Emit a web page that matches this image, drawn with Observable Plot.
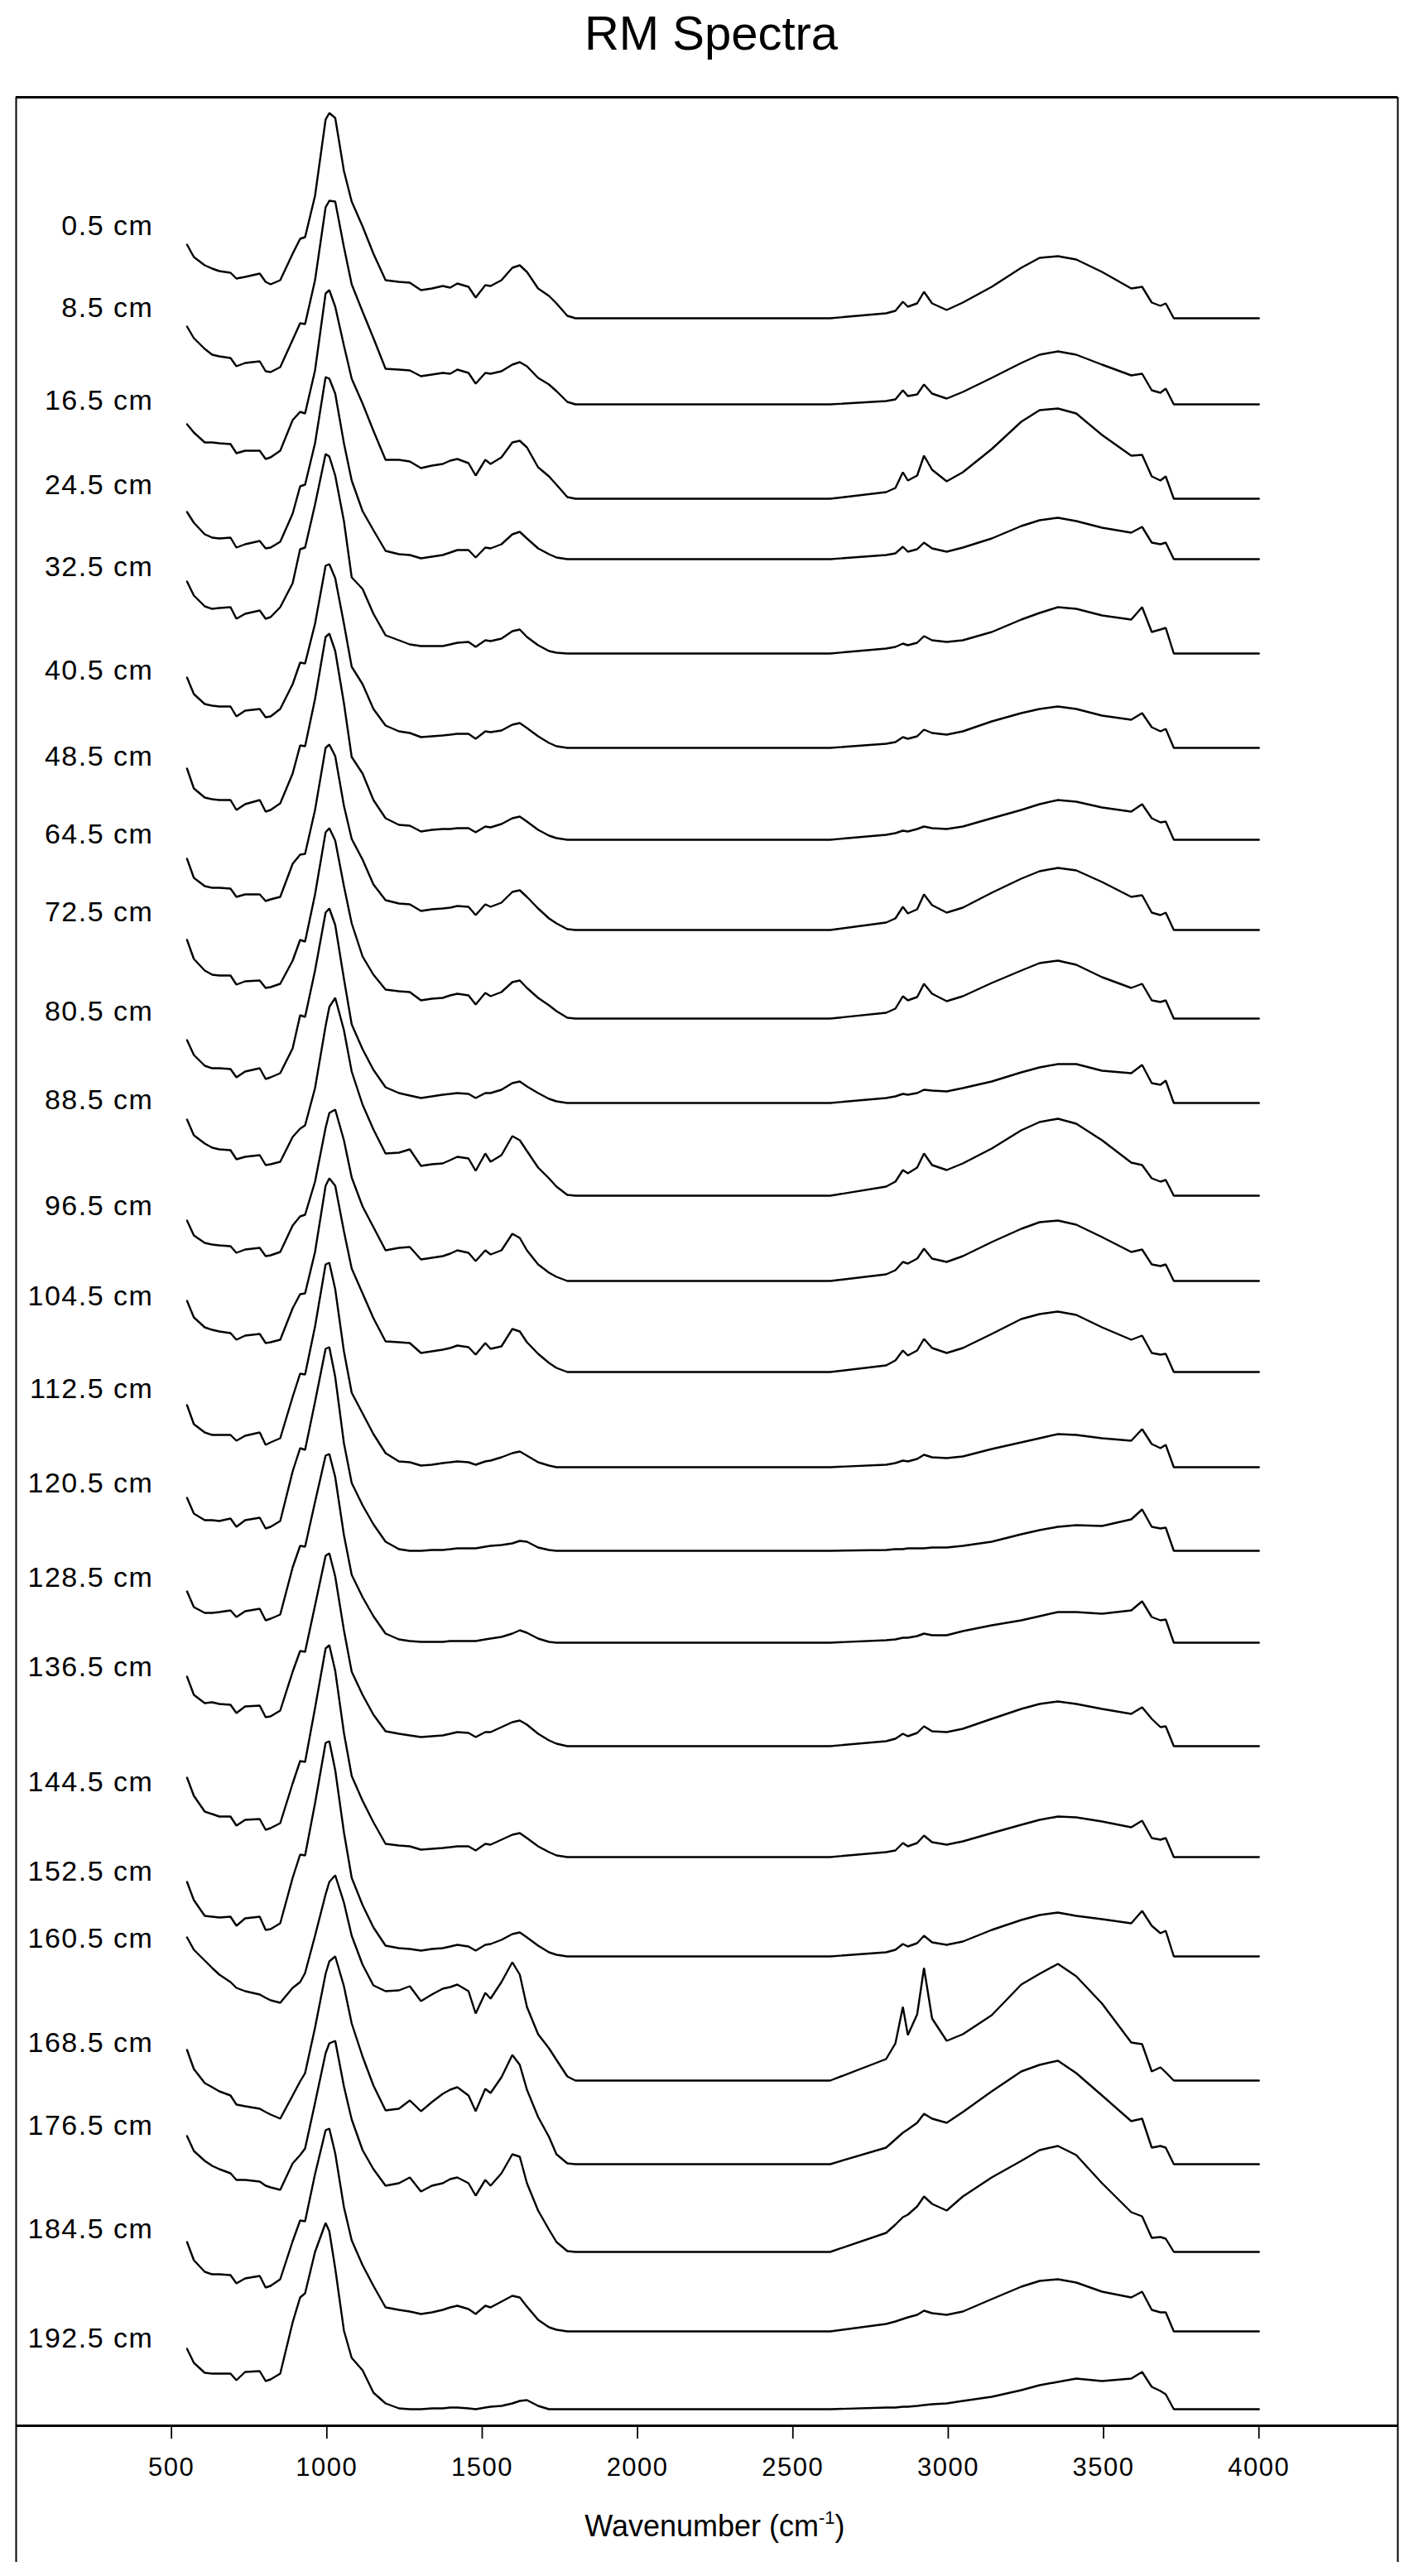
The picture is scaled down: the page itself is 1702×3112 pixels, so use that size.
<!DOCTYPE html>
<html>
<head>
<meta charset="utf-8">
<script src="https://cdn.jsdelivr.net/npm/d3@7"></script>
<script src="https://cdn.jsdelivr.net/npm/@observablehq/plot@0.6"></script>
<style>
  html, body { margin: 0; padding: 0; background: #fff; }
  #title {
    height: 100px; box-sizing: border-box; padding-top: 11px; padding-left: 16px;
    text-align: center; font-family: "Liberation Sans", Arial, sans-serif;
    font-size: 58px; line-height: 1; color: #000;
  }
  #chart svg { display: block; }
  #chart g[aria-label="x-axis tick label"] text { letter-spacing: 1.5px; }
  #chart g[aria-label="text"] text { letter-spacing: 1.5px; }
</style>
</head>
<body>
<div id="title">RM Spectra</div>
<div id="chart"></div>
<script>
// Wavenumber grid (cm-1) at which each spectrum was read
const wavenumber = [550,572,607,631,654, 690,709,737,784,803, 819,850,890,914,930, 962,996,1008,1027,1055,
  1080,1115,1150,1189,1232, 1267,1303,1338,1373,1397, 1420,1456,1479,1510,1527, 1562,1597,1621,1644,1680,
  1715,1739,1774,1800,2620, 2800,2830,2854,2870,2900, 2922,2948,2995,3047,3140, 3235,3294,3353,3412,3495,
  3589,3624,3655,3683,3700, 3726,4000];

// Sample depth labels
const depthLabels = ["0.5 cm","8.5 cm","16.5 cm","24.5 cm","32.5 cm","40.5 cm","48.5 cm","64.5 cm",
  "72.5 cm","80.5 cm","88.5 cm","96.5 cm","104.5 cm","112.5 cm","120.5 cm","128.5 cm","136.5 cm",
  "144.5 cm","152.5 cm","160.5 cm","168.5 cm","176.5 cm","184.5 cm","192.5 cm"];

// Vertical stacking offset of each spectrum's baseline
const baselineOffset = [2546,2442,2328,2255,2141,2027,1916,1807,1700,1598,1486,1383,1273,1158,1057,946,821,687,567,417,316,210,114,20];

// Vertical position of each depth label
const labelPosition = [2657,2558,2446,2344,2245,2120,2016,1922,1828,1708,1601,1473,1364,1252,1138,1024,916,777,669,588,462,362,237,105];

// Absorbance (relative units) above baseline, one array per depth
const d0_5 = [89,74,64,60,57, 55,48,50,54,44, 41,46,78,96,98, 148,240,248,242,178, 141,111,78,46,44, 43,34,36,39,37, 42,38,25,40,39, 46,61,64,56,36, 27,18,3,0,0, 6,9,20,14,18, 32,18,10,19,38, 61,73,75,71,56, 36,38,19,15,18, 0,0];
const d8_5 = [94,80,67,60,58, 56,46,50,52,40, 39,45,78,98,97, 150,238,246,245,190, 145,112,80,43,42, 41,34,36,38,37, 42,38,25,38,37, 40,48,51,46,32, 24,16,3,0,0, 4,6,17,10,12, 24,13,7,15,32, 50,60,64,60,48, 35,37,17,14,19, 0,0];
const d16_5 = [90,80,68,68,67, 66,55,58,58,48, 50,58,95,105,103, 155,248,252,232,185, 145,115,82,47,47, 45,37,40,42,46, 48,43,28,47,42, 50,68,70,62,38, 27,17,2,0,0, 8,13,32,22,28, 52,35,21,32,60, 93,107,109,103,77, 52,53,27,22,27, 0,0];
const d24_5 = [57,44,30,26,25, 26,14,18,22,13, 14,21,55,88,90, 140,220,218,200,140, 95,58,35,10,6, 5,1,3,5,8, 11,11,2,14,13, 18,30,33,25,13, 6,2,0,0,0, 5,7,15,9,12, 20,13,9,14,25, 40,47,50,46,38, 32,39,20,18,20, 0,0];
const d32_5 = [87,70,57,54,55, 56,42,48,52,42, 44,56,85,126,128, 180,241,238,215,160, 92,78,48,22,16, 11,9,9,9,11, 13,14,8,16,15, 18,27,29,20,10, 3,1,0,0,0, 6,8,12,10,13, 21,16,14,16,26, 41,49,56,54,46, 41,56,26,29,31, 0,0];
const d40_5 = [85,65,53,51,50, 50,38,45,47,37, 38,47,77,103,102, 150,220,222,205,150, 98,77,47,27,20, 18,13,14,15,16, 17,17,11,20,19, 21,28,30,24,14, 6,2,0,0,0, 5,7,13,11,14, 22,18,16,20,32, 42,47,50,47,39, 34,42,25,20,23, 0,0];
const d48_5 = [86,62,51,49,48, 48,36,43,48,34, 36,44,80,114,113, 170,245,249,228,165, 100,80,48,26,18, 17,10,12,13,13, 14,14,9,16,15, 19,26,28,22,12, 5,2,0,0,0, 6,8,11,10,13, 16,14,13,16,26, 36,43,48,46,39, 34,43,26,21,22, 0,0];
const d64_5 = [86,63,53,51,51, 50,40,43,43,35, 37,40,80,91,92, 145,220,224,210,150, 110,85,55,36,32, 31,23,25,26,27, 29,28,18,31,28, 33,46,48,40,26, 14,8,1,0,0, 9,14,28,20,25, 43,30,21,27,45, 62,71,75,72,58, 40,42,21,18,21, 0,0];
const d72_5 = [95,72,58,53,52, 52,41,45,46,37, 38,42,70,95,93, 150,225,230,215,160, 115,75,53,35,33, 32,22,24,25,28, 30,28,17,31,27, 32,44,46,37,25, 16,9,1,0,0, 7,12,27,22,26, 42,30,21,27,43, 58,67,70,65,50, 37,42,22,20,22, 0,0];
const d80_5 = [76,58,45,42,42, 41,31,38,42,29, 31,36,66,106,104, 160,230,235,215,150, 95,65,40,19,12, 9,6,8,10,11, 12,11,6,12,12, 16,24,26,20,12, 5,2,0,0,0, 6,8,11,10,12, 16,15,14,18,26, 37,43,47,47,39, 36,46,24,22,27, 0,0];
const d88_5 = [92,73,63,58,56, 55,44,47,49,37, 38,41,71,81,85, 130,205,228,239,200, 150,110,80,51,52, 56,36,38,39,43, 47,45,30,51,41, 49,72,67,54,34, 21,11,1,0,0, 11,17,31,27,34, 51,37,31,39,57, 79,89,93,87,67, 40,37,21,17,19, 0,0];
const d96_5 = [73,55,46,44,43, 42,34,38,40,30, 31,35,67,78,80, 120,185,203,207,170, 125,90,65,37,40, 41,26,28,30,33, 37,34,24,37,32, 37,57,52,37,20, 10,5,0,0,0, 8,13,23,21,27, 39,27,23,30,47, 63,71,73,68,53, 35,38,20,18,20, 0,0];
const d104_5 = [86,66,54,51,49, 47,39,44,46,35, 36,39,77,94,95, 145,225,234,225,170, 125,95,65,37,36, 35,23,25,27,29, 32,30,21,35,28, 31,52,49,36,22, 11,5,0,0,0, 8,14,26,20,26, 40,29,23,29,46, 64,70,73,69,54, 39,44,23,21,22, 0,0];
const d112_5 = [75,52,42,39,39, 39,32,38,42,27, 30,35,85,113,112, 170,245,247,215,140, 90,65,40,17,7, 6,2,3,5,6, 7,6,3,7,8, 12,17,19,14,6, 2,0,0,0,0, 3,5,8,7,10, 15,12,11,13,22, 30,35,40,39,35, 32,46,28,23,27, 0,0];
const d120_5 = [64,45,37,37,36, 39,29,37,40,27, 29,36,96,124,122, 180,244,246,210,130, 82,55,32,11,2, 0,0,1,1,2, 3,3,3,5,6, 7,9,12,11,4, 1,0,0,0,0, 1,2,2,3,3, 3,4,4,6,11, 20,25,29,31,30, 38,50,29,27,28, 0,0];
const d128_5 = [62,43,36,36,37, 39,31,38,41,27, 29,34,91,117,116, 170,226,228,200,130, 82,55,32,11,4, 2,1,1,1,2, 2,2,2,4,5, 7,11,15,12,5, 1,0,0,0,0, 3,4,6,6,8, 11,9,9,14,21, 27,32,37,37,35, 39,50,31,27,28, 0,0];
const d136_5 = [84,62,52,53,51, 50,40,48,49,35, 36,43,90,115,114, 170,230,233,205,140, 90,62,38,18,15, 13,11,12,13,15, 17,16,11,17,17, 23,29,31,26,15, 7,3,0,0,0, 6,9,15,12,16, 24,18,17,21,33, 45,51,54,51,45, 39,47,33,23,24, 0,0];
const d144_5 = [96,74,55,52,49, 49,38,45,46,33, 35,41,89,116,115, 180,252,256,225,150, 98,68,42,16,14, 13,9,10,11,12, 13,13,8,16,15, 21,27,29,23,13, 6,2,0,0,0, 6,8,17,13,17, 26,18,15,19,29, 39,45,49,48,43, 36,44,23,21,23, 0,0];
const d152_5 = [90,68,49,48,47, 48,37,46,48,32, 33,40,95,123,122, 185,258,260,225,150, 95,62,35,13,10, 9,7,9,10,12, 14,12,7,14,15, 20,27,29,23,13, 5,2,0,0,0, 5,8,15,12,16, 25,17,14,18,32, 44,50,53,49,45, 40,55,37,28,31, 0,0];
const d160_5 = [173,158,145,136,128, 119,112,108,104,100, 97,94,112,119,130, 175,225,240,248,215, 175,140,115,108,109, 114,96,104,111,113, 116,108,81,106,99, 119,143,128,89,56, 39,25,5,0,0, 26,45,89,55,80, 136,75,48,56,79, 116,129,141,126,93, 46,44,11,16,10, 0,0];
const d168_5 = [138,115,98,93,88, 83,72,70,67,63, 60,55,83,100,110, 165,230,245,251,215, 170,130,95,65,67, 77,64,75,85,90, 93,83,64,91,86, 105,132,120,90,57, 33,12,1,0,0, 20,30,38,42,50, 61,55,50,63,88, 112,120,125,110,83, 52,55,20,22,20, 0,0];
const d176_5 = [140,122,110,104,100, 95,87,87,85,80, 78,75,107,117,125, 180,240,252,255,200, 160,123,100,80,83, 90,73,80,83,88, 90,83,68,87,80, 95,118,115,83,50, 27,12,1,0,0, 23,33,42,45,55, 67,58,50,67,90, 110,123,128,117,83, 48,43,17,18,16, 0,0];
const d184_5 = [108,86,72,69,69, 68,58,64,67,53, 55,63,109,134,133, 190,243,245,215,150, 110,80,55,29,26, 24,21,23,26,29, 31,27,21,31,29, 36,43,41,30,14, 5,2,0,0,0, 9,12,15,17,20, 25,22,20,24,39, 54,61,63,59,48, 41,48,26,23,23, 0,0];
const d192_5 = [73,56,44,43,43, 43,35,45,46,34, 36,43,105,135,140, 190,225,215,170,95, 62,47,20,7,1, 0,0,1,1,2, 2,1,0,2,3, 4,7,10,11,4, 0,0,0,0,0, 2,2,3,3,4, 5,6,7,10,15, 23,29,33,37,34, 37,45,27,22,18, 0,0];

const spectra = [d0_5,d8_5,d16_5,d24_5,d32_5,d40_5,d48_5,d64_5,d72_5,d80_5,d88_5,d96_5,
  d104_5,d112_5,d120_5,d128_5,d136_5,d144_5,d152_5,d160_5,d168_5,d176_5,d184_5,d192_5];

const xTicks = [500,1000,1500,2000,2500,3000,3500,4000];
const xMax = 4447, yMax = 2813;
const labelX = 442;

const rows = [];
spectra.forEach((vals, i) => {
  vals.forEach((v, j) => rows.push({depth: depthLabels[i], wn: wavenumber[j], v: baselineOffset[i] + v}));
});
const labelRows = depthLabels.map((t, i) => ({label: t, x: labelX, y: labelPosition[i]}));

const chart = Plot.plot({
  width: 1702,
  height: 3012,
  marginTop: 17,
  marginBottom: 182,
  marginLeft: 19,
  marginRight: 14,
  x: {domain: [0, xMax]},
  y: {domain: [0, yMax], axis: null},
  style: {fontFamily: '"Liberation Sans", Arial, sans-serif', background: "white", color: "black", overflow: "visible"},
  marks: [
    Plot.axisX({ticks: xTicks, tickSize: 16, tickPadding: 22, fontSize: 31, strokeWidth: 1.8,
      label: null, tickFormat: d => String(d)}),
    Plot.ruleY([yMax], {stroke: "black", strokeWidth: 3}),
    Plot.ruleY([0], {stroke: "black", strokeWidth: 3}),
    Plot.ruleX([0, xMax], {y1: yMax, y2: -165, stroke: "black", strokeWidth: 2}),
    Plot.line(rows, {x: "wn", y: "v", z: "depth", stroke: "black", strokeWidth: 2.4, curve: "linear", strokeLinejoin: "miter"}),
    Plot.text(labelRows, {x: "x", y: "y", text: "label", textAnchor: "end", lineAnchor: "middle", fontSize: 34, fill: "black"})
  ]
});

document.getElementById("chart").appendChild(chart);

// Axis title with superscript
const xs = chart.scale("x");
const t = d3.select(chart).append("text")
  .attr("x", xs.apply(2250))
  .attr("y", 2964)
  .attr("text-anchor", "middle")
  .attr("font-family", '"Liberation Sans", Arial, sans-serif')
  .attr("font-size", 36)
  .attr("fill", "black");
t.append("tspan").text("Wavenumber (cm");
t.append("tspan").attr("font-size", 22).attr("dy", -15).text("-1");
t.append("tspan").attr("dy", 15).text(")");
</script>
</body>
</html>
